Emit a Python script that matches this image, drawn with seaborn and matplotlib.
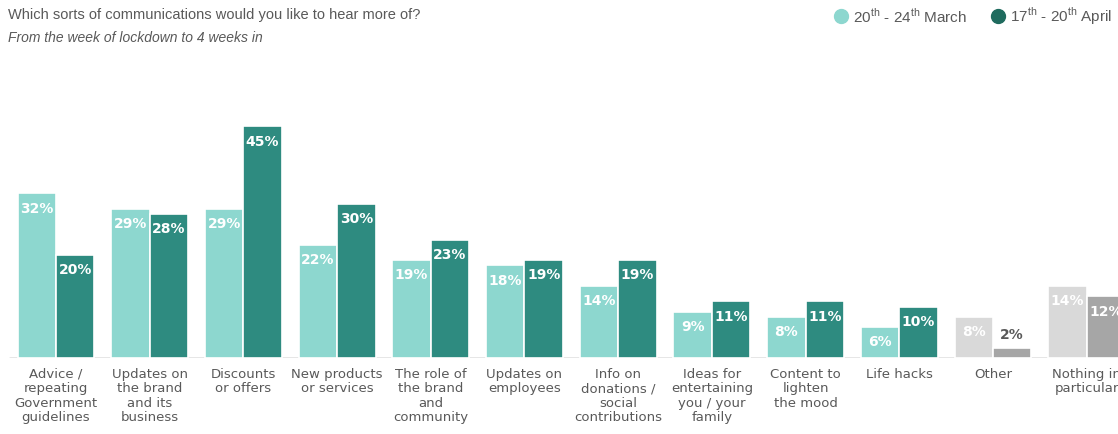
import matplotlib
matplotlib.use("Agg")
import matplotlib.pyplot as plt
import seaborn as sns
import pandas as pd
from matplotlib.lines import Line2D

categories = [
    "Advice /\nrepeating\nGovernment\nguidelines",
    "Updates on\nthe brand\nand its\nbusiness",
    "Discounts\nor offers",
    "New products\nor services",
    "The role of\nthe brand\nand\ncommunity",
    "Updates on\nemployees",
    "Info on\ndonations /\nsocial\ncontributions",
    "Ideas for\nentertaining\nyou / your\nfamily",
    "Content to\nlighten\nthe mood",
    "Life hacks",
    "Other",
    "Nothing in\nparticular",
]
march = [32, 29, 29, 22, 19, 18, 14, 9, 8, 6, 8, 14]
april = [20, 28, 45, 30, 23, 19, 19, 11, 11, 10, 2, 12]
series_names = ["20th - 24th March", "17th - 20th April"]

df = pd.DataFrame({
    "category": categories * 2,
    "value": march + april,
    "period": [series_names[0]] * len(categories) + [series_names[1]] * len(categories),
})

sns.set_theme(style="white")
plt.rcParams["font.family"] = ["Liberation Sans", "DejaVu Sans"]
plt.rcParams["mathtext.fontset"] = "custom"
plt.rcParams["mathtext.rm"] = "Liberation Sans"

LIGHT = "#8dd7cf"
DARK = "#2e8b80"
GREY_L = "#d9d9d9"
GREY_D = "#a6a6a6"
TXT = "#595959"

W, H = 1118, 434
fig = plt.figure(figsize=(W / 100, H / 100), dpi=100)
ax = fig.add_axes([0, 76 / H, 1, 258 / H])

sns.barplot(data=df, x="category", y="value", hue="period", order=categories,
            hue_order=series_names, palette=[LIGHT, DARK], width=0.82,
            saturation=1, edgecolor="white", linewidth=1.2, legend=False, ax=ax)

n = len(categories)
for ci, cont in enumerate(ax.containers):
    for i, bar in enumerate(cont):
        if i >= n - 2:
            bar.set_facecolor(GREY_L if ci == 0 else GREY_D)
        h = bar.get_height()
        xc = bar.get_x() + bar.get_width() / 2
        if h >= 5:
            ax.annotate(f"{int(h)}%", (xc, h), xytext=(0, -6), textcoords="offset points",
                        ha="center", va="top", color="white", fontsize=10,
                        fontweight="bold", family="DejaVu Sans")
        else:
            ax.annotate(f"{int(h)}%", (xc, h), xytext=(0, 4), textcoords="offset points",
                        ha="center", va="bottom", color=TXT, fontsize=10,
                        fontweight="bold", family="DejaVu Sans")

ax.set_xlim(-56 / 93.7, (W - 56) / 93.7)
ax.set_ylim(0, 258 / 5.15)
ax.set_xlabel("")
ax.set_ylabel("")
ax.set_yticks([])
ax.set_xticks(range(n))
ax.set_xticklabels(categories, fontsize=9.5, color=TXT, linespacing=1.15,
                   family="DejaVu Sans")
ax.tick_params(axis="x", length=0, pad=7)
for s in ax.spines.values():
    s.set_visible(False)
ax.axhline(0, xmin=10 / W, xmax=1, color="#e3e3e3", lw=2, zorder=0)
ax.patch.set_alpha(0)

fig.text(8 / W, 1 - 15 / H, "Which sorts of communications would you like to hear more of?",
         fontsize=10.5, color=TXT, va="center", ha="left")
fig.text(8 / W, 1 - 38 / H, "From the week of lockdown to 4 weeks in",
         fontsize=10, color=TXT, style="italic", va="center", ha="left")

leg_items = [(841, LIGHT, r"20$^{\mathrm{th}}$ - 24$^{\mathrm{th}}$ March"),
             (998, "#1f6b5e", r"17$^{\mathrm{th}}$ - 20$^{\mathrm{th}}$ April")]
for px, col, lab in leg_items:
    fig.add_artist(Line2D([px / W], [1 - 16 / H], marker="o", markersize=10,
                          color=col, linestyle="none", transform=fig.transFigure))
    fig.text((px + 12) / W, 1 - 16 / H, lab, fontsize=11, color=TXT,
             va="center", ha="left")

fig.savefig("out.png", dpi=100)
